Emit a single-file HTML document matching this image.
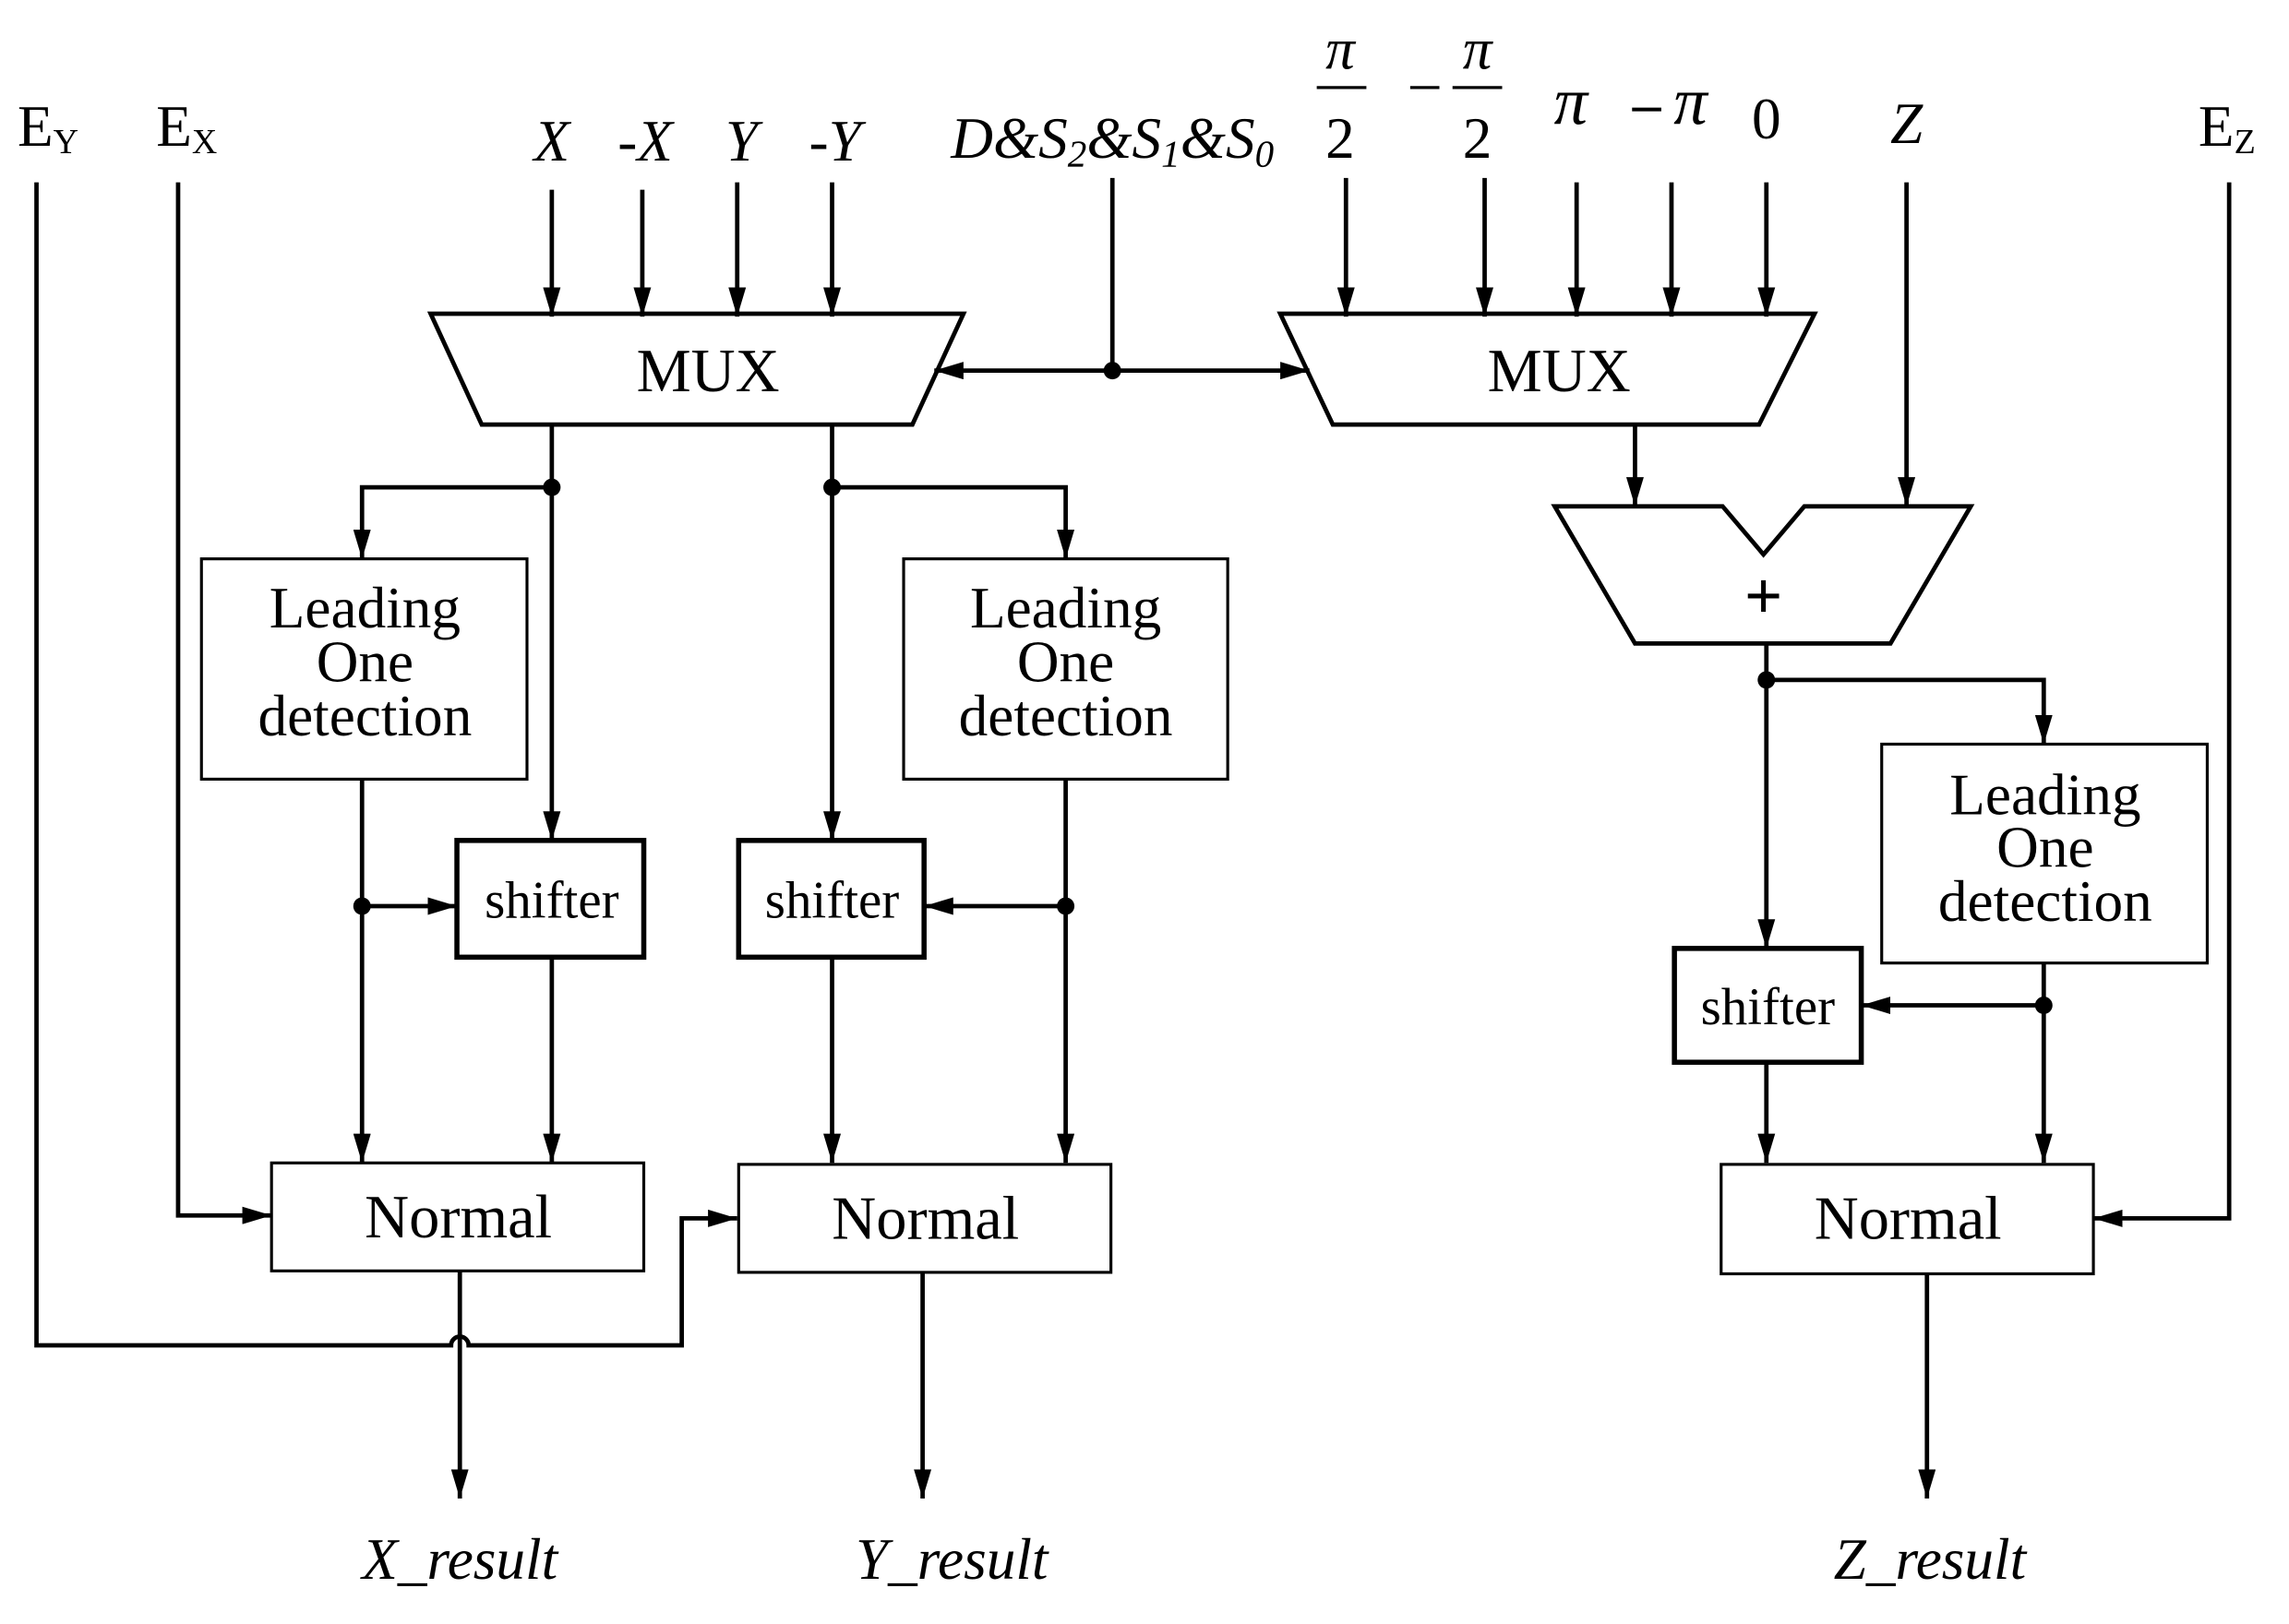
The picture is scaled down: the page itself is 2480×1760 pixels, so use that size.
<!DOCTYPE html>
<html><head><meta charset="utf-8"><style>
html,body{margin:0;padding:0;background:#fff;}
svg{display:block;}
text{font-family:"Liberation Serif",serif;fill:#000;}
</style></head><body>
<svg width="2480" height="1760" viewBox="0 0 1568 1113" preserveAspectRatio="none" xmlns="http://www.w3.org/2000/svg">
<defs>
<marker id="a" viewBox="0 0 20 12" refX="20" refY="6" markerWidth="20" markerHeight="12" markerUnits="userSpaceOnUse" orient="auto">
<path d="M0,0 L20,6 L0,12 z" fill="#000"/></marker>
</defs>
<g stroke="#000" stroke-width="3" fill="none">
<path d="M25,125 V922 H309 A6,6 0 0 1 321,922 H467 V835 H505" marker-end="url(#a)"/>
<path d="M122,125 V833 H186" marker-end="url(#a)"/>
<path d="M1527,125 V835 H1434" marker-end="url(#a)"/>
<path d="M378,130 V217" marker-end="url(#a)"/>
<path d="M440,130 V217" marker-end="url(#a)"/>
<path d="M505,125 V217" marker-end="url(#a)"/>
<path d="M570,125 V217" marker-end="url(#a)"/>
<path d="M762,122 V254"/>
<path d="M762,254 H640" marker-end="url(#a)"/>
<path d="M762,254 H897" marker-end="url(#a)"/>
<path d="M922,122 V217" marker-end="url(#a)"/>
<path d="M1017,122 V217" marker-end="url(#a)"/>
<path d="M1080,125 V217" marker-end="url(#a)"/>
<path d="M1145,125 V217" marker-end="url(#a)"/>
<path d="M1210,125 V217" marker-end="url(#a)"/>
<path d="M295,215 H660 L625,291 H330 Z"/>
<path d="M877,215 H1243 L1205,291 H913 Z"/>
<path d="M378,291 V576" marker-end="url(#a)"/>
<path d="M378,334 H248 V383" marker-end="url(#a)"/>
<path d="M570,291 V576" marker-end="url(#a)"/>
<path d="M570,334 H730 V383" marker-end="url(#a)"/>
<rect x="138" y="383" width="223" height="151" stroke-width="2"/>
<rect x="619" y="383" width="222" height="151" stroke-width="2"/>
<rect x="1289" y="510" width="223" height="150" stroke-width="2"/>
<path d="M248,534 V797" marker-end="url(#a)"/>
<path d="M248,621 H313" marker-end="url(#a)"/>
<rect x="313" y="576" width="128" height="80" stroke-width="3.5"/>
<path d="M378,656 V797" marker-end="url(#a)"/>
<rect x="186" y="797" width="255" height="74" stroke-width="2"/>
<path d="M730,534 V797" marker-end="url(#a)"/>
<path d="M730,621 H633" marker-end="url(#a)"/>
<rect x="506" y="576" width="127" height="80" stroke-width="3.5"/>
<path d="M570,656 V797" marker-end="url(#a)"/>
<rect x="506" y="798" width="255" height="74" stroke-width="2"/>
<path d="M315,871 V1027" marker-end="url(#a)"/>
<path d="M632,872 V1027" marker-end="url(#a)"/>
<path d="M1320,873 V1027" marker-end="url(#a)"/>
<path d="M1120,291 V347" marker-end="url(#a)"/>
<path d="M1306,125 V347" marker-end="url(#a)"/>
<path d="M1065,347 H1180 L1208,380 L1236,347 H1350 L1295,441 H1120 Z"/>
<path d="M1210,441 V650" marker-end="url(#a)"/>
<path d="M1210,466 H1400 V510" marker-end="url(#a)"/>
<path d="M1400,660 V797" marker-end="url(#a)"/>
<path d="M1400,689 H1275" marker-end="url(#a)"/>
<rect x="1147" y="650" width="128" height="78" stroke-width="3.5"/>
<path d="M1210,728 V797" marker-end="url(#a)"/>
<rect x="1179" y="798" width="255" height="75" stroke-width="2"/>
<path d="M902,60 H936" stroke-width="2"/>
<path d="M995,60 H1029" stroke-width="2"/>
<path d="M966,60 H986" stroke-width="2"/>
<path d="M1118,75 H1138" stroke-width="2.5"/>
</g>
<g fill="#000">
<circle cx="762" cy="254" r="6"/>
<circle cx="378" cy="334" r="6"/>
<circle cx="570" cy="334" r="6"/>
<circle cx="248" cy="621" r="6"/>
<circle cx="730" cy="621" r="6"/>
<circle cx="1210" cy="466" r="6"/>
<circle cx="1400" cy="689" r="6"/>
</g>
<g font-size="40">
<text x="12" y="100">E<tspan font-size="24" dy="5">Y</tspan></text>
<text x="107" y="100">E<tspan font-size="24" dy="5">X</tspan></text>
<text x="1506" y="100">E<tspan font-size="24" dy="5">Z</tspan></text>
<g font-style="italic" text-anchor="middle">
<text x="378" y="110">X</text>
<text x="442" y="110">-X</text>
<text x="508" y="110">Y</text>
<text x="572" y="110">-Y</text>
<text x="762" y="108">D&amp;S<tspan font-size="26" dy="6">2</tspan><tspan dy="-6">&amp;S</tspan><tspan font-size="26" dy="6">1</tspan><tspan dy="-6">&amp;S</tspan><tspan font-size="26" dy="6">0</tspan></text>
<text x="1306" y="98">Z</text>
<text x="918" y="47">π</text>
<text x="1012" y="47">π</text>
<text x="1076" y="85" font-size="46">π</text>
<text x="1158" y="85" font-size="46">π</text>
<text x="315" y="1082">X_result</text>
<text x="652" y="1082">Y_result</text>
<text x="1322" y="1082">Z_result</text>
</g>
<g text-anchor="middle">
<text x="918" y="108">2</text>
<text x="1012" y="108">2</text>
<text x="1210" y="95">0</text>
<text x="485" y="268" font-size="42">MUX</text>
<text x="1068" y="268" font-size="42">MUX</text>
<text x="314" y="848" font-size="42">Normal</text>
<text x="634" y="849" font-size="42">Normal</text>
<text x="1307" y="849" font-size="42">Normal</text>
<text x="378" y="629" font-size="36">shifter</text>
<text x="570" y="629" font-size="36">shifter</text>
<text x="1211" y="702" font-size="36">shifter</text>
<text x="250" y="430">Leading</text><text x="250" y="467">One</text><text x="250" y="504">detection</text>
<text x="730" y="430">Leading</text><text x="730" y="467">One</text><text x="730" y="504">detection</text>
<text x="1401" y="558">Leading</text><text x="1401" y="594">One</text><text x="1401" y="631">detection</text>
<text x="1208" y="424" font-size="46" font-weight="bold" font-family="Liberation Sans, sans-serif">+</text>
</g>
</g>
</svg>
</body></html>
